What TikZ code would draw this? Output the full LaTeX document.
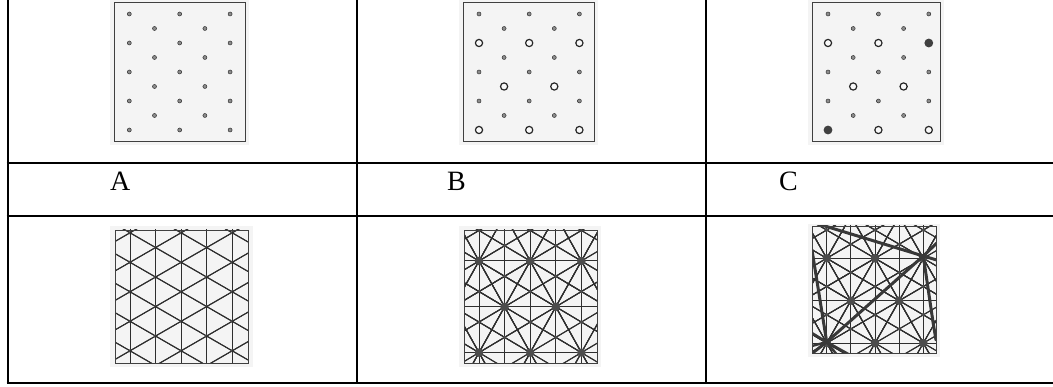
\documentclass[tikz,border=0pt]{standalone}
\usepackage{fontspec}
\setmainfont{Liberation Serif}
\begin{document}
\begin{tikzpicture}[x=1pt,y=-1pt,
  tab/.style={line width=2pt,black},
  photo/.style={fill=gray!9},
  frame/.style={draw=black!75,line width=0.8pt},
  sdot/.style={fill=black!45,draw=black!80,line width=0.5pt},
  odot/.style={draw=black!85,fill=gray!5,line width=1.2pt},
  fdot/.style={fill=black!75},
  lat/.style={line width=1pt,black!82},
  hub/.style={fill=black!70},
  cen/.style={fill=black!70},
  defect/.style={black!78,line width=3pt,line cap=round},
  lbl/.style={font=\fontsize{28}{30}\selectfont,anchor=base west,inner sep=0pt}
]
\useasboundingbox (0,0) rectangle (1053,387);

% ---------- table ----------
\draw[tab] (7.5,0) -- (7.5,383.7);
\draw[tab] (356.7,0) -- (356.7,383.7);
\draw[tab] (705.7,0) -- (705.7,383.7);
\draw[tab] (6.5,163.3) -- (1053,163.3);
\draw[tab] (6.5,216) -- (1053,216);
\draw[tab] (6.5,382.7) -- (1053,382.7);

% ---------- labels ----------
\node[lbl] (la) at (110,191) {A};
\node[lbl] (lb) at (447,191) {B};
\node[lbl] (lc) at (779,191) {C};

% ---------- top A ----------
\fill[photo] (110,0) rectangle (249,145);
\draw[frame] (114,2.7) rectangle (245,141.7);
\foreach \r in {0,...,8} \foreach \c in {0,...,4} {
  \pgfmathtruncatemacro\pp{mod(\r+\c,2)}
  \ifnum\pp=0 \draw[sdot] ({129.3+25.2*\c},{14+14.5*\r}) circle (2); \fi
}

% ---------- top B ----------
\fill[photo] (459,0) rectangle (598,145);
\draw[frame] (463.3,2.7) rectangle (594.5,141.7);
\foreach \r in {0,1,3,4,6,7} \foreach \c in {0,...,4} {
  \pgfmathtruncatemacro\pp{mod(\r+\c,2)}
  \ifnum\pp=0 \draw[sdot] ({479+25.1*\c},{14+14.5*\r}) circle (2); \fi
}
\foreach \r/\c in {2/0,2/2,2/4,5/1,5/3,8/0,8/2,8/4}
  \draw[odot] ({479+25.1*\c},{14+14.5*\r}) circle (3.6);

% ---------- top C ----------
\fill[photo] (808,0) rectangle (944,145);
\draw[frame] (812.7,2.7) rectangle (940,141.7);
\foreach \r in {0,1,3,4,6,7} \foreach \c in {0,...,4} {
  \pgfmathtruncatemacro\pp{mod(\r+\c,2)}
  \ifnum\pp=0 \draw[sdot] ({828+25.2*\c},{14+14.5*\r}) circle (2); \fi
}
\foreach \r/\c in {2/0,2/2,5/1,5/3,8/2,8/4}
  \draw[odot] ({828+25.2*\c},{14+14.5*\r}) circle (3.6);
\foreach \r/\c in {2/4,8/0}
  \fill[fdot] ({828+25.2*\c},{14+14.5*\r}) circle (4.4);

% ---------- bottom A ----------
\fill[photo] (110,226) rectangle (253,367);
\begin{scope}
\clip (115.7,230) rectangle (248,363);
\foreach \i in {-2,...,5} \foreach \j in {-6,...,5} {
  \pgfmathsetmacro\X{130+25.55*\i}
  \pgfmathsetmacro\Y{262.3+14.75*\i+29.5*\j}
  \begin{scope}[shift={(\X,\Y)}]
    \draw[lat] (0,-30) -- (0,30);
    \draw[lat] (-25.55,-14.75) -- (25.55,14.75);
    \draw[lat] (-25.55,14.75) -- (25.55,-14.75);
    \fill[cen] (0,0) circle (1.8);
  \end{scope}
}
\end{scope}
\draw[frame] (115.7,230) rectangle (248,363);

% ---------- bottom B ----------
\fill[photo] (459,226) rectangle (601,367);
\begin{scope}
\clip (464.3,230) rectangle (597,363.3);
\foreach \i in {-3,...,3} \foreach \j in {-1,...,2} {
  \pgfmathsetmacro\X{479+51.2*\i+25.6*\j}
  \pgfmathsetmacro\Y{261+45.8*\j}
  \begin{scope}[shift={(\X,\Y)}]
    \draw[lat] (-200,0) -- (200,0);
    \draw[lat] (-100,-178.9) -- (100,178.9);
    \draw[lat] (100,-178.9) -- (-100,178.9);
    \draw[lat] (0,-200) -- (0,200);
    \draw[lat] (-153.6,-91.6) -- (153.6,91.6);
    \draw[lat] (-153.6,91.6) -- (153.6,-91.6);
  \end{scope}
}
\foreach \i in {-3,...,3} \foreach \j in {-1,...,2} {
  \pgfmathsetmacro\X{479+51.2*\i+25.6*\j}
  \pgfmathsetmacro\Y{261+45.8*\j}
  \fill[hub] (\X,\Y) circle (4.3);
  \fill[cen] ({\X+25.6},{\Y+15.27}) circle (1.8);
  \fill[cen] ({\X+51.2},{\Y+30.53}) circle (1.8);
}
\end{scope}
\draw[frame] (464.3,230) rectangle (597,363.3);

% ---------- bottom C ----------
\fill[photo] (808,224) rectangle (940,357);
\begin{scope}
\clip (812.7,226) rectangle (936.7,353);
\foreach \i in {-3,...,3} \foreach \j in {-1,...,2} {
  \pgfmathsetmacro\X{826.7+48.3*\i+24.15*\j}
  \pgfmathsetmacro\Y{258.3+42.4*\j}
  \begin{scope}[shift={(\X,\Y)}]
    \draw[lat] (-200,0) -- (200,0);
    \draw[lat] (-96.6,-169.6) -- (96.6,169.6);
    \draw[lat] (96.6,-169.6) -- (-96.6,169.6);
    \draw[lat] (0,-200) -- (0,200);
    \draw[lat] (-144.9,-84.8) -- (144.9,84.8);
    \draw[lat] (-144.9,84.8) -- (144.9,-84.8);
  \end{scope}
}
\foreach \i in {-3,...,3} \foreach \j in {-1,...,2} {
  \pgfmathsetmacro\X{826.7+48.3*\i+24.15*\j}
  \pgfmathsetmacro\Y{258.3+42.4*\j}
  \fill[hub] (\X,\Y) circle (4.3);
  \fill[cen] ({\X+24.15},{\Y+14.13}) circle (1.8);
  \fill[cen] ({\X+48.3},{\Y+28.27}) circle (1.8);
}
\coordinate (h1) at (923.3,256);
\coordinate (h2) at (826.7,342);
\draw[defect] (815,223) -- (h1) -- (940,261);
\draw[defect] (810,355) -- (h2) -- (h1) -- (940,240);
\draw[defect] (812,250) -- (h2);
\draw[defect] (h1) -- (933,322) -- (936,340);
\draw[defect,line width=2.4pt] (812,346) -- (h2) -- (852,356);
\draw[defect,line width=2.4pt] (812,333) -- (h2) -- (838,356);
\end{scope}
\draw[frame] (812.7,226) rectangle (936.7,353);
\end{tikzpicture}
\end{document}
